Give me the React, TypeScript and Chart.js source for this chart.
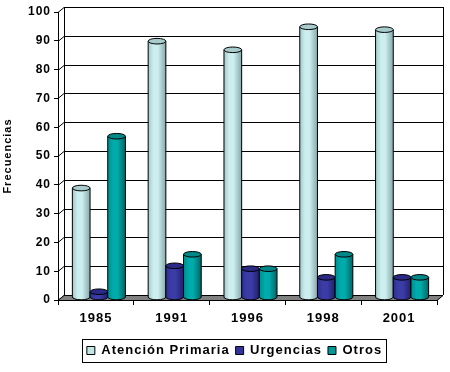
import React, { useEffect, useRef } from 'react';
import { Chart, registerables } from 'chart.js';

Chart.register(...registerables);

const categories = ['1985', '1991', '1996', '1998', '2001'];
const atencionPrimaria = [38, 89, 86, 94, 93];
const urgencias = [2, 11, 10, 7, 7];
const otros = [56, 15, 10, 15, 7];
const seriesNames = ['Atención Primaria', 'Urgencias', 'Otros'];
const yTitle = 'Frecuencias';
const yMin = 0;
const yMax = 100;
const yStep = 10;

const FONT = "'Liberation Sans', Arial, sans-serif";
const DX = 6;
const DY = -5;
const LEGEND_SHIFT = 16;

const swatchColors = ['#c0e6e6', '#333399', '#009999'];
const cylColors = [
  { edge: '#a3c8c8', light: '#cdeeee', dark: '#86a8a8', top: '#a8cccc' },
  { edge: '#2e2e8e', light: '#3c3ca6', dark: '#20206c', top: '#2a2a86' },
  { edge: '#008c8c', light: '#00abab', dark: '#006464', top: '#008787' },
];

const threeD = {
  id: 'threeD',
  beforeUpdate(chart: any) {
    chart.ctx.letterSpacing = '1px';
  },
  afterLayout(chart: any) {
    const lg = chart.legend;
    if (lg) {
      lg.left += LEGEND_SHIFT;
      lg.right += LEGEND_SHIFT;
    }
  },
  beforeDraw(chart: any) {
    const ctx = chart.ctx;
    ctx.letterSpacing = '1px';
    ctx.save();
    ctx.fillStyle = '#ffffff';
    ctx.fillRect(0, 0, chart.width, chart.height);
    ctx.restore();
  },
  beforeDatasetsDraw(chart: any) {
    const { ctx, chartArea } = chart;
    const { left, right, top, bottom } = chartArea;
    const y = chart.scales.y;
    ctx.save();
    ctx.strokeStyle = '#000';
    ctx.lineWidth = 1;
    y.ticks.forEach((t: any) => {
      const py = Math.round(y.getPixelForValue(t.value)) + 0.5;
      ctx.beginPath();
      ctx.moveTo(left, py);
      ctx.lineTo(left + DX, py + DY);
      ctx.lineTo(right + DX, py + DY);
      ctx.stroke();
    });
    ctx.beginPath();
    ctx.moveTo(Math.round(left + DX) + 0.5, top + DY);
    ctx.lineTo(Math.round(left + DX) + 0.5, bottom + DY);
    ctx.moveTo(Math.round(right + DX) + 0.5, top + DY);
    ctx.lineTo(Math.round(right + DX) + 0.5, bottom + DY);
    ctx.stroke();
    // floor
    const fb = Math.round(bottom) + 0.5;
    ctx.beginPath();
    ctx.moveTo(left, fb);
    ctx.lineTo(right, fb);
    ctx.lineTo(right + DX, fb + DY);
    ctx.lineTo(left + DX, fb + DY);
    ctx.closePath();
    ctx.fillStyle = '#808080';
    ctx.fill();
    ctx.stroke();
    ctx.restore();
  },
  beforeDatasetDraw() {
    return false;
  },
  afterDatasetsDraw(chart: any) {
    const ctx = chart.ctx;
    ctx.save();
    ctx.lineWidth = 1;
    ctx.strokeStyle = '#000';
    const n = chart.data.labels.length;
    for (let i = 0; i < n; i++) {
      chart.data.datasets.forEach((_: any, di: number) => {
        const meta = chart.getDatasetMeta(di);
        const el: any = meta.data[i];
        if (!el) return;
        const c = cylColors[di];
        const w = el.width;
        const cx = el.x + DX / 2;
        const l = cx - w / 2;
        const r = cx + w / 2;
        const ty = el.y + DY / 2;
        const by = el.base + DY / 2;
        const rx = w / 2;
        const ry = 2.8;
        const g = ctx.createLinearGradient(l, 0, r, 0);
        g.addColorStop(0, c.edge);
        g.addColorStop(0.3, c.light);
        g.addColorStop(0.55, c.light);
        g.addColorStop(1, c.dark);
        ctx.beginPath();
        ctx.moveTo(l, ty);
        ctx.lineTo(l, by);
        ctx.ellipse(cx, by, rx, ry, 0, Math.PI, 0, true);
        ctx.lineTo(r, ty);
        ctx.closePath();
        ctx.fillStyle = g;
        ctx.fill();
        ctx.beginPath();
        ctx.moveTo(l, ty);
        ctx.lineTo(l, by);
        ctx.ellipse(cx, by, rx, ry, 0, Math.PI, 0, true);
        ctx.lineTo(r, ty);
        ctx.stroke();
        ctx.beginPath();
        ctx.ellipse(cx, ty, rx, ry, 0, 0, Math.PI * 2);
        ctx.fillStyle = c.top;
        ctx.fill();
        ctx.stroke();
      });
    }
    ctx.restore();
  },
  afterDraw(chart: any) {
    const lg = chart.legend;
    if (!lg || !lg.legendHitBoxes || !lg.legendHitBoxes.length) return;
    const hb = lg.legendHitBoxes;
    let minX = Infinity;
    let maxX = -Infinity;
    hb.forEach((h: any) => {
      minX = Math.min(minX, h.left);
      maxX = Math.max(maxX, h.left + h.width);
    });
    const cy = hb[0].top + hb[0].height / 2;
    const ctx = chart.ctx;
    ctx.save();
    ctx.strokeStyle = '#000';
    ctx.lineWidth = 1;
    ctx.strokeRect(Math.round(minX - 5) + 0.5, Math.round(cy - 12) + 0.5, Math.round(maxX - minX + 9), 23);
    ctx.restore();
  },
};

export default function App() {
  const ref = useRef<HTMLCanvasElement | null>(null);
  useEffect(() => {
    if (!ref.current) return;
    const chart = new Chart(ref.current, {
      type: 'bar',
      data: {
        labels: categories,
        datasets: [
          { label: seriesNames[0], data: atencionPrimaria, backgroundColor: swatchColors[0], borderColor: '#000', borderWidth: 1 },
          { label: seriesNames[1], data: urgencias, backgroundColor: swatchColors[1], borderColor: '#000', borderWidth: 1 },
          { label: seriesNames[2], data: otros, backgroundColor: swatchColors[2], borderColor: '#000', borderWidth: 1 },
        ],
      },
      options: {
        responsive: false,
        animation: false,
        devicePixelRatio: 1,
        datasets: { bar: { categoryPercentage: 0.7, barPercentage: 1 } },
        layout: { padding: { top: 12, right: 13, bottom: 5, left: 0 } },
        plugins: {
          tooltip: { enabled: false },
          legend: {
            position: 'bottom',
            labels: {
              boxWidth: 8,
              boxHeight: 8,
              padding: 6,
              color: '#000',
              font: { family: FONT, size: 13, weight: 'bold' },
            },
          },
        },
        scales: {
          x: {
            grid: { display: true, drawOnChartArea: false, drawTicks: true, tickLength: 5, color: '#000', offset: true },
            border: { display: true, color: '#000' },
            ticks: { color: '#000', padding: 6, maxRotation: 0, font: { family: FONT, size: 13, weight: 'bold' } },
            afterFit: (s: any) => { s.height = 38; },
          },
          y: {
            min: yMin,
            max: yMax,
            ticks: { stepSize: yStep, color: '#000', padding: 3, font: { family: FONT, size: 12, weight: 'bold' } },
            grid: { display: true, drawOnChartArea: false, drawTicks: true, tickLength: 4, color: '#000' },
            border: { display: true, color: '#000' },
            title: { display: true, text: yTitle, color: '#000', padding: { top: 1, bottom: 0 }, font: { family: FONT, size: 11, weight: 'bold' } },
            afterFit: (s: any) => { s.width = 58; },
          },
        },
      },
      plugins: [threeD as any],
    });
    return () => chart.destroy();
  }, []);
  return (
    <div style={{ position: 'fixed', left: 0, top: 0, width: 450, height: 372, background: '#fff' }}>
      <canvas ref={ref} width={450} height={372} style={{ display: 'block' }} />
    </div>
  );
}
